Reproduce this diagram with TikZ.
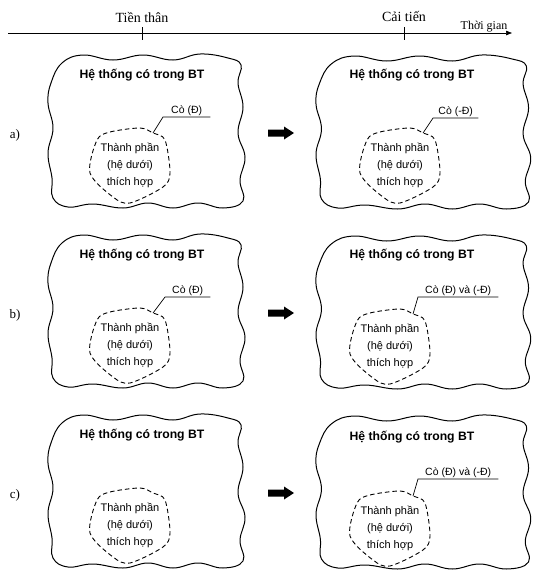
\documentclass[tikz,border=0pt]{standalone}
\usepackage{fontspec}
\setmainfont{Liberation Serif}
\newfontfamily\arialf{Liberation Sans}
\usetikzlibrary{arrows.meta}
\tikzset{
  blobline/.style={line width=1pt, line join=round},
  dashline/.style={line width=0.9pt, dash pattern=on 4.5pt off 3pt},
  titletext/.style={font=\arialf\bfseries\fontsize{12.2}{14}\selectfont, inner sep=0pt},
  bodytext/.style={font=\arialf\fontsize{11}{17}\selectfont, align=center, inner sep=0pt},
  lbltext/.style={font=\arialf\fontsize{10.5}{12}\selectfont, anchor=south west, inner xsep=0pt, inner ysep=0.8pt},
  leader/.style={line width=0.7pt},
  rowlabel/.style={font=\fontsize{13}{15}\selectfont, inner sep=0pt},
  timetext/.style={font=\fontsize{14}{16}\selectfont, inner sep=0pt},
  outerblob/.pic={\draw[blobline] plot[smooth cycle, tension=0.7] coordinates {(14,10) (35,2) (65,7) (95,2) (125,7) (152,1) (180,5) (193,12) (190,30) (195,54) (190,80) (197,104) (192,127) (195,148) (175,155) (150,150) (125,155) (100,150) (75,155) (45,151) (20,154) (5,145) (4,125) (0,100) (5,75) (0,50) (3,30)};},
  innerblob/.pic={\draw[dashline] plot[smooth cycle, tension=0.5] coordinates {(-20,-33) (10,-37) (23,-32) (35,-25) (40,8) (33,22) (0,38) (-17,32) (-40,8) (-33,-25)}; \coordinate (-att) at (23,-32);},
  fatarr/.pic={\fill (0,-3.5) -- (16,-3.5) -- (16,-6.5) -- (26,0) -- (16,6.5) -- (16,3.5) -- (0,3.5) -- cycle;},
}
\begin{document}
\begin{tikzpicture}[x=1pt,y=-1pt]
\useasboundingbox (0,0) rectangle (537,579);
% timeline
\coordinate (T0) at (8,33);
\coordinate (T1) at (512,33);
\draw[line width=0.7pt, -{Triangle[length=6pt,width=4.5pt]}] (T0) -- (T1);
\coordinate (K1) at (142,33);
\coordinate (K2) at (404,33);
\draw[line width=0.7pt] ([yshift=6pt]K1) -- ([yshift=-7pt]K1);
\draw[line width=0.7pt] ([yshift=6pt]K2) -- ([yshift=-7pt]K2);
\node[timetext] (TT) at (142,17) {Tiền thân};
\node[timetext] (CT) at (404,16) {Cải tiến};
\node[font=\fontsize{12}{14}\selectfont, inner sep=0pt] (TG) at (484,27) {Thời gian};

% row a
\node[rowlabel] (ra) at (15,135) {a)};
\pic at (48,53) {outerblob};
\pic[xscale=1.09] at (316,54) {outerblob};
\pic at (268,133) {fatarr};
\node[titletext] (ha) at (142,75) {Hệ thống có trong BT};
\node[titletext] (hra) at (412,75) {Hệ thống có trong BT};
\pic (ia) at (130,165) {innerblob};
\node[bodytext] (ta) at (130,165) {Thành phần\\(hệ dưới)\\thích hợp};
\pic (ira) at (400,165) {innerblob};
\node[bodytext] (tra) at (400,165) {Thành phần\\(hệ dưới)\\thích hợp};
\node[lbltext, minimum width=47pt] (la) at (163,117) {Cò (Đ)};
\draw[leader] (ia-att) -- (la.south west) -- (la.south east);
\node[lbltext, minimum width=45pt] (lra) at (433,118) {Cò (-Đ)};
\draw[leader] (ira-att) -- (lra.south west) -- (lra.south east);

% row b
\node[rowlabel] (rb) at (15,315) {b)};
\pic at (48,233) {outerblob};
\pic[xscale=1.09] at (316,234) {outerblob};
\pic at (268,313) {fatarr};
\node[titletext] (hb) at (142,255) {Hệ thống có trong BT};
\node[titletext] (hrb) at (412,255) {Hệ thống có trong BT};
\pic (ib) at (130,345) {innerblob};
\node[bodytext] (tb) at (130,345) {Thành phần\\(hệ dưới)\\thích hợp};
\pic (irb) at (390,346) {innerblob};
\node[bodytext] (trb) at (390,346) {Thành phần\\(hệ dưới)\\thích hợp};
\node[lbltext, minimum width=45pt] (lb) at (165,297) {Cò (Đ)};
\draw[leader] (ib-att) -- (lb.south west) -- (lb.south east);
\node[lbltext, minimum width=80pt] (lrb) at (418,297) {Cò (Đ) và (-Đ)};
\draw[leader] (irb-att) -- (lrb.south west) -- (lrb.south east);

% row c
\node[rowlabel] (rc) at (15,495) {c)};
\pic at (48,413) {outerblob};
\pic[xscale=1.09] at (316,414) {outerblob};
\pic at (268,493) {fatarr};
\node[titletext] (hc) at (142,435) {Hệ thống có trong BT};
\node[titletext] (hrc) at (412,437) {Hệ thống có trong BT};
\pic (ic) at (130,525) {innerblob};
\node[bodytext] (tc) at (130,525) {Thành phần\\(hệ dưới)\\thích hợp};
\pic (irc) at (390,528) {innerblob};
\node[bodytext] (trc) at (390,528) {Thành phần\\(hệ dưới)\\thích hợp};
\node[lbltext, minimum width=80pt] (lrc) at (418,479) {Cò (Đ) và (-Đ)};
\draw[leader] (irc-att) -- (lrc.south west) -- (lrc.south east);
\end{tikzpicture}
\end{document}
